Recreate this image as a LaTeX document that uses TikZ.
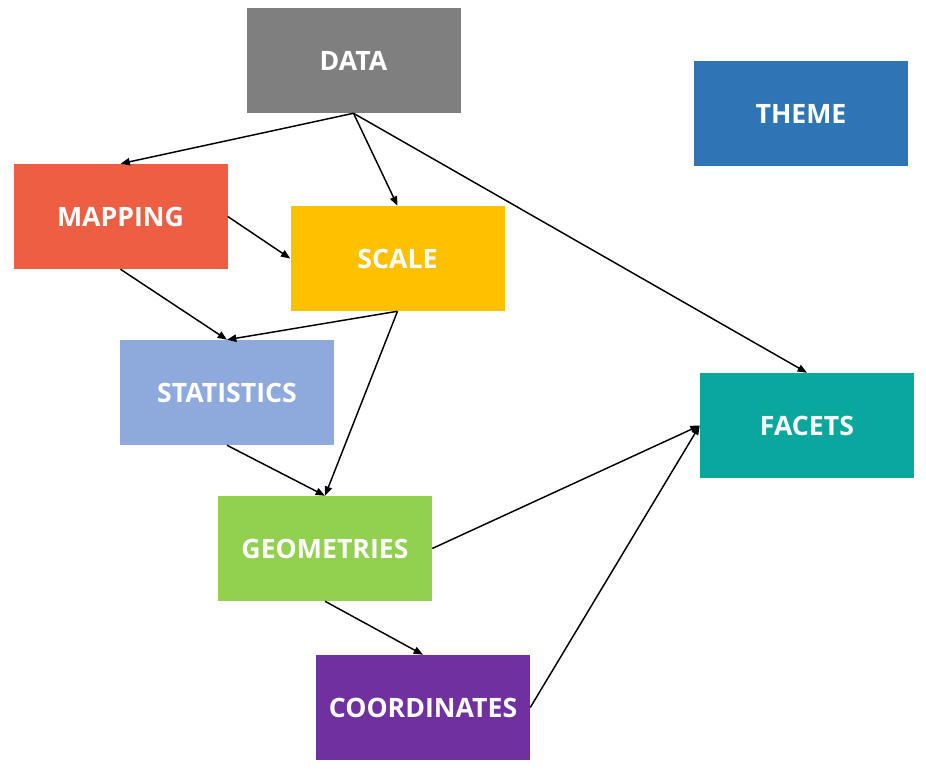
\documentclass[tikz,border=0pt]{standalone}
\usepackage{fontspec}
\setmainfont{Open Sans}
\usetikzlibrary{arrows.meta}
\definecolor{datagray}{HTML}{7F7F7F}
\definecolor{themeblue}{HTML}{2E75B6}
\definecolor{mapred}{HTML}{ED5E42}
\definecolor{scaleyellow}{HTML}{FFC000}
\definecolor{statblue}{HTML}{8EA9DB}
\definecolor{facetteal}{HTML}{0AA79E}
\definecolor{geomgreen}{HTML}{92D050}
\definecolor{coordpurple}{HTML}{7030A0}
\begin{document}
\begin{tikzpicture}[x=0.75pt, y=-0.75pt,
    layer/.style={minimum width=160.5pt, minimum height=78.75pt, inner sep=0pt,
        text=white, font=\bfseries\fontsize{20}{22}\selectfont},
    link/.style={-{Triangle[length=7pt, width=5.5pt]}, line width=1.1pt}]
    \useasboundingbox (0,0) rectangle (926,770);
    % boxes
    \node[layer, fill=datagray] (data) at (353.5,60.5) {DATA};
    \node[layer, fill=themeblue] (theme) at (801,113.5) {THEME};
    \node[layer, fill=mapred] (mapping) at (120.5,216.5) {MAPPING};
    \node[layer, fill=scaleyellow] (scale) at (397.5,258.5) {SCALE};
    \node[layer, fill=statblue] (stats) at (227,392.5) {STATISTICS};
    \node[layer, fill=facetteal] (facets) at (807,425.5) {FACETS};
    \node[layer, fill=geomgreen] (geoms) at (325,548.5) {GEOMETRIES};
    \node[layer, fill=coordpurple] (coords) at (423,707.5) {COORDINATES};
    % arrows
    \draw[link] (data.south) -- (mapping.north);
    \draw[link] (data.south) -- (scale.north);
    \draw[link] (data.south) -- (facets.north);
    \draw[link] (mapping.east) -- (scale.west);
    \draw[link] (mapping.south) -- (stats.north);
    \draw[link] (scale.south) -- (stats.north);
    \draw[link] (scale.south) -- (geoms.north);
    \draw[link] (stats.south) -- (geoms.north);
    \draw[link] (geoms.east) -- (facets.west);
    \draw[link] (geoms.south) -- (coords.north);
    \draw[link] (coords.east) -- (facets.west);
\end{tikzpicture}
\end{document}
